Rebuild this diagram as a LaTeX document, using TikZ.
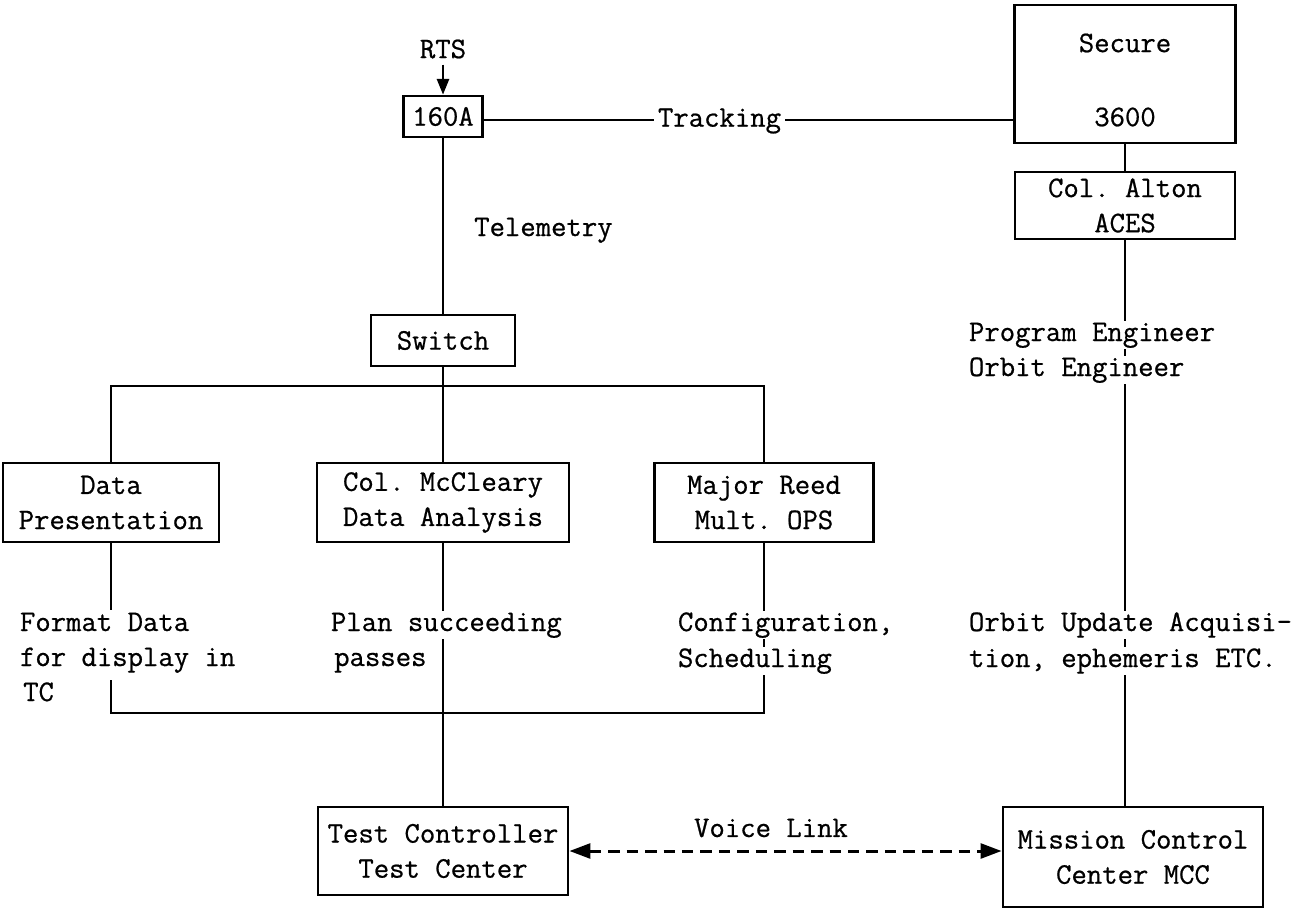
\documentclass[tikz,border=0pt]{standalone}
\usepackage{fontspec}
\setmonofont{Latin Modern Mono}[FakeBold=0.7]
\usetikzlibrary{arrows.meta}
\begin{document}
\begin{tikzpicture}[x=0.02cm,y=-0.02cm,
  every node/.style={font=\fontsize{17}{20}\selectfont\ttfamily},
  box/.style={draw,line width=1.6pt,align=center,inner sep=0pt},
  boxsize/.style 2 args={minimum width=#1*0.02cm,minimum height=#2*0.02cm},
  wire/.style={line width=1.2pt},
  feed/.style={wire,-{Triangle[length=9pt,width=7pt]}},
  voice/.style={line width=1.7pt,dash pattern=on 6.5pt off 4pt,
    {Triangle[length=12pt,width=8.5pt]}-{Triangle[length=12pt,width=8.5pt]}},
  tag/.style={anchor=base west,fill=white,inner xsep=1.5pt,inner ysep=0.5pt,
    text height=11pt,text depth=4pt},
  tagtight/.style={tag,inner ysep=0pt,text height=12pt,text depth=8pt}
]
\useasboundingbox (0,0) rectangle (1302,909);

% ---- boxes ----
\node (rts) at (443,49) {RTS};
\node[box,boxsize={79}{41}] (a160) at (443,116.5) {160A};
\node[box,boxsize={221}{138}] (secure) at (1125,74) {};
\node (securetxt) at (1125,43) {Secure};
\node (securenum) at (1125,117) {3600};
\node[box,boxsize={220}{67}] (alton) at (1125,205.5) {Col. Alton\\ACES};
\node[box,boxsize={144}{51}] (switch) at (443,340.5) {Switch};
\node[box,boxsize={216}{79}] (data) at (111,502.5) {Data\\Presentation};
\node[box,boxsize={252}{79}] (mccl) at (443,502.5) {Col. McCleary\\Data Analysis};
\node[box,boxsize={219}{79}] (reed) at (764,502.5) {Major Reed\\Mult. OPS};
\node[box,boxsize={250}{88}] (tc) at (443,851) {Test Controller\\Test Center};
\node[box,boxsize={260}{100}] (mcc) at (1133,857) {Mission Control\\Center MCC};

% ---- bracket corners ----
\coordinate (ltop) at (111,386);
\coordinate (rtop) at (764,386);
\coordinate (lbot) at (111,713);
\coordinate (rbot) at (764,713);

% ---- connectors ----
\draw[feed] (rts) -- (a160);
\draw[wire] (a160.east |- 0,120) -- (secure.west |- 0,120);
\draw[wire] (a160) -- (switch);
\draw[wire] (switch) -- (mccl);
\draw[wire] (mccl) -- (tc);
\draw[wire] (data.north) -- (ltop) -- (rtop) -- (reed.north);
\draw[wire] (data.south) -- (lbot) -- (rbot) -- (reed.south);
\draw[wire] (secure) -- (alton);
\draw[wire] (alton.south) -- (alton.south |- mcc.north);
\draw[voice] (tc.east) -- (tc.east -| mcc.west);

% ---- labels ----
\node[fill=white,inner xsep=2pt,inner ysep=1pt] (track) at (719.5,121) {Tracking};
\node[anchor=base west] (telem) at (468,236) {Telemetry};
\node[tag] (prog) at (966,341) {Program Engineer};
\node[tag] (orbeng) at (966,376) {Orbit Engineer};
\node[tagtight] (fmt1) at (17,631) {Format Data};
\node[tagtight] (fmt2) at (17,666) {for display in};
\node[anchor=base west] (fmt3) at (17,701) {TC};
\node[tag] (plan1) at (328,631) {Plan succeeding};
\node[anchor=base west] (plan2) at (328,666) {passes};
\node[tag] (cfg1) at (675,631) {Configuration,};
\node[tag] (cfg2) at (675,667) {Scheduling};
\node[tag] (orb1) at (966,631) {Orbit Update Acquisi-};
\node[tag] (orb2) at (966,667) {tion, ephemeris ETC.};
\node (voicelbl) at (771,828) {Voice Link};
\end{tikzpicture}
\end{document}
